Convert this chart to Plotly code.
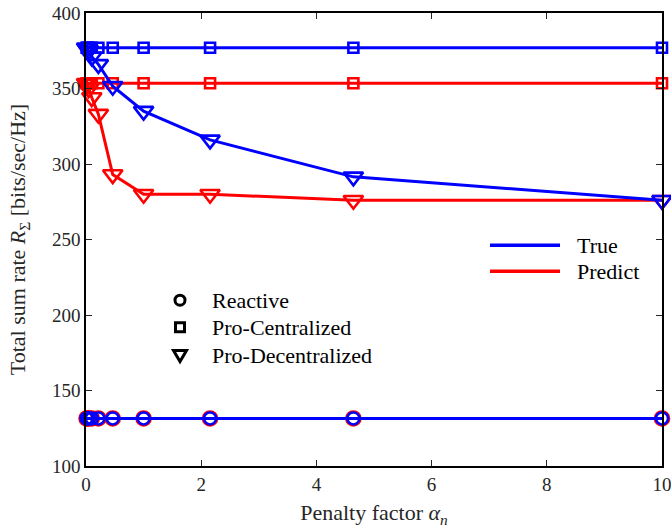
import plotly.graph_objects as go

# ---------------- data ----------------
alpha = [0.01, 0.0215, 0.0464, 0.1, 0.215, 0.464, 1.0, 2.154, 4.642, 10.0]

reactive_true = [131.5] * 10
reactive_pred = [131.5] * 10
procent_true = [377] * 10
procent_pred = [353.5] * 10
prodec_true = [377, 376.5, 375, 371, 366, 351.5, 335, 316, 291.5, 276]
prodec_pred = [353.5, 353, 350, 344, 333, 293, 280, 280, 276, 276]

x_ticks = [0, 2, 4, 6, 8, 10]
y_ticks = [100, 150, 200, 250, 300, 350, 400]

line_legend = ["True", "Predict"]
marker_legend = ["Reactive", "Pro-Centralized", "Pro-Decentralized"]

BLUE = "#0000FF"
RED = "#FF0000"
FONT = "Liberation Serif"
GRAY = "#262626"

W, H = 671, 529

fig = go.Figure()

series = [
    (reactive_pred, RED, "circle-open", 14),
    (procent_pred, RED, "square-open", 10),
    (prodec_pred, RED, "triangle-down-open", 17),
    (reactive_true, BLUE, "circle-open", 12),
    (procent_true, BLUE, "square-open", 10),
    (prodec_true, BLUE, "triangle-down-open", 17),
]
for vals, col, sym, sz in series:
    fig.add_trace(go.Scatter(
        x=alpha, y=vals, mode="lines+markers",
        line=dict(color=col, width=3),
        marker=dict(symbol=sym, size=sz, color=col, line=dict(color=col, width=2.6)),
        showlegend=False, cliponaxis=False,
    ))

# ------------- plot area in pixels (for legend placement) -------------
L, R, T, B = 86, 662, 12.5, 466
def px(xp):
    return (xp - L) / (R - L)
def py(yp):
    return (B - yp) / (B - T)

shapes = []
annotations = []

# line legend
for name, col, yy in zip(line_legend, [BLUE, RED], [245, 271]):
    shapes.append(dict(type="line", xref="paper", yref="paper",
                       x0=px(490), x1=px(560), y0=py(yy), y1=py(yy),
                       line=dict(color=col, width=3.5)))
    annotations.append(dict(xref="paper", yref="paper", x=px(575), y=py(yy),
                            text=name, showarrow=False, xanchor="left", yanchor="middle",
                            font=dict(family=FONT, size=22, color="black")))

# marker legend
ys = [300, 327, 355]
mx = px(180)
shapes.append(dict(type="circle", xref="paper", yref="paper", xsizemode="pixel", ysizemode="pixel",
                   xanchor=mx, yanchor=py(ys[0]), x0=-5, x1=5, y0=-5, y1=5,
                   line=dict(color="black", width=3)))
shapes.append(dict(type="rect", xref="paper", yref="paper", xsizemode="pixel", ysizemode="pixel",
                   xanchor=mx, yanchor=py(ys[1]), x0=-4.5, x1=4.5, y0=-4.5, y1=4.5,
                   line=dict(color="black", width=3)))
shapes.append(dict(type="path", xref="paper", yref="paper", xsizemode="pixel", ysizemode="pixel",
                   xanchor=mx, yanchor=py(ys[2]), path="M -6.5,4.5 L 6.5,4.5 L 0,-6.5 Z",
                   line=dict(color="black", width=3)))
for name, yy in zip(marker_legend, ys):
    annotations.append(dict(xref="paper", yref="paper", x=px(210), y=py(yy),
                            text=name, showarrow=False, xanchor="left", yanchor="middle",
                            font=dict(family=FONT, size=22, color="black")))

fig.update_layout(
    width=W, height=H,
    margin=dict(l=L, r=W - R, t=T, b=H - B),
    paper_bgcolor="white", plot_bgcolor="white",
    font=dict(family=FONT, size=19, color=GRAY),
    shapes=shapes, annotations=annotations,
    showlegend=False,
)
fig.update_xaxes(
    range=[0, 10], tickvals=x_ticks, ticks="inside", ticklen=6, tickcolor=GRAY,
    showline=True, linecolor="black", linewidth=1.5, mirror="ticks", showgrid=False, zeroline=False,
    tickfont=dict(family=FONT, size=19, color=GRAY), ticklabeloverflow="allow",
    title=dict(text="Penalty factor <i>α</i><sub><i>n</i></sub>", standoff=11,
               font=dict(family=FONT, size=22, color=GRAY)),
    automargin=False,
)
fig.update_yaxes(
    range=[100, 400], tickvals=y_ticks, ticks="inside", ticklen=6, tickcolor=GRAY,
    showline=True, linecolor="black", linewidth=1.5, mirror="ticks", showgrid=False, zeroline=False,
    tickfont=dict(family=FONT, size=19, color=GRAY), ticklabeloverflow="allow",
    title=dict(text="Total sum rate <i>R</i><sub>Σ</sub> [bits/sec/Hz]", standoff=20,
               font=dict(family=FONT, size=22, color=GRAY)),
    automargin=False,
)

fig.write_html(
    "out.html",
    config={"displayModeBar": False},
    post_script="document.body.style.margin='0';document.body.style.overflow='hidden';",
)
